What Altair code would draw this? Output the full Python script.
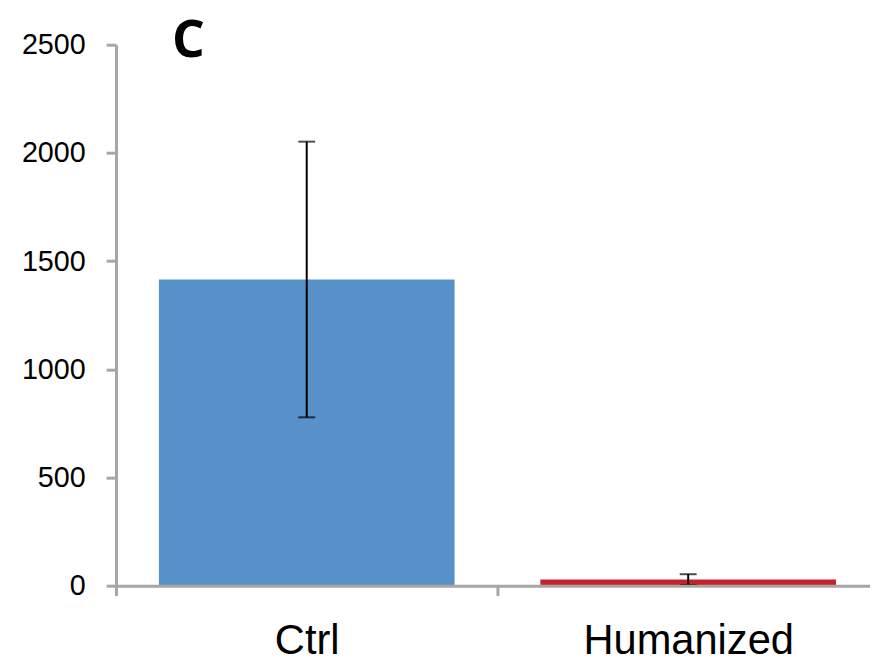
import altair as alt
import pandas as pd

groups = ["Ctrl", "Humanized"]
values = [1415, 28]
errors = [637, 25]
colors = ["#5891C9", "#C8202C"]

df = pd.DataFrame({
    "group": groups,
    "value": values,
    "lo": [v - e for v, e in zip(values, errors)],
    "hi": [v + e for v, e in zip(values, errors)],
    "color": colors,
})

x_axis = alt.Axis(labelAngle=0, labelFontSize=42, labelFont="Liberation Sans",
                  labelColor="#000000", domainColor="#a6a6a6", domainWidth=3,
                  tickColor="#a6a6a6", tickWidth=3, tickSize=10, tickBand="extent",
                  labelPadding=25, labelLimit=0, zindex=1, grid=False)
x_scale = alt.Scale(paddingInner=0, paddingOuter=0)
y_scale = alt.Scale(domain=[0, 2500], nice=False)
y_axis = alt.Axis(values=[0, 500, 1000, 1500, 2000, 2500], grid=False, format="d",
                  labelFontSize=29, labelFont="Liberation Sans", labelColor="#000000",
                  domainColor="#a6a6a6", domainWidth=3, tickColor="#a6a6a6",
                  tickWidth=3, tickSize=10, labelPadding=21, zindex=1)

def X():
    return alt.X("group:N", sort=groups, title=None, scale=x_scale, axis=x_axis)

bars = alt.Chart(df).mark_bar(width={"band": 0.775}).encode(
    x=X(),
    y=alt.Y("value:Q", scale=y_scale, title=None, axis=y_axis),
    color=alt.Color("color:N", scale=None),
)

rule = alt.Chart(df).mark_rule(color="black", strokeWidth=2).encode(
    x=X(), y=alt.Y("lo:Q", scale=y_scale, title=None, axis=y_axis), y2="hi:Q")
cap_hi = alt.Chart(df).mark_tick(color="black", thickness=2, size=17, orient="horizontal").encode(
    x=X(), y=alt.Y("hi:Q", scale=y_scale, title=None, axis=y_axis))
cap_lo = alt.Chart(df).mark_tick(color="black", thickness=2, size=17, orient="horizontal").encode(
    x=X(), y=alt.Y("lo:Q", scale=y_scale, title=None, axis=y_axis))

label = alt.Chart(pd.DataFrame({"t": ["C"]})).mark_text(
    fontSize=52, fontWeight="bold", font="Open Sans", align="center", baseline="middle"
).encode(text="t:N", x=alt.value(73), y=alt.value(-4))

chart = alt.layer(bars, rule, cap_hi, cap_lo, label).properties(
    width=770, height=546,
    padding={"left": 109, "top": 34, "right": -9, "bottom": 75},
    autosize=alt.AutoSizeParams(type="none"),
    background="white",
).configure_view(strokeWidth=0, stroke="transparent")

chart.save("out.html", embed_options={"renderer": "svg", "actions": False})
